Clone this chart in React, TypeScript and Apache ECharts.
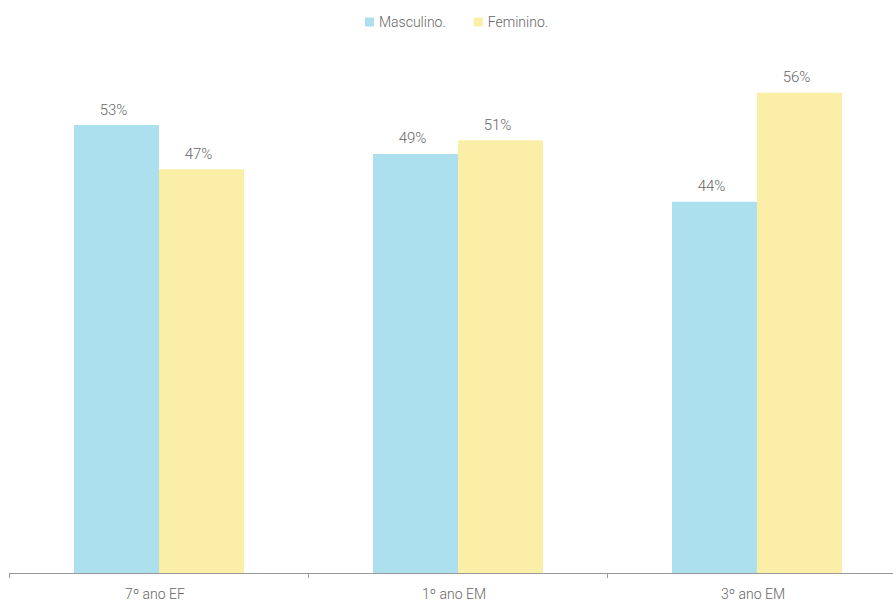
import React, { useEffect, useRef } from "react";
import * as echarts from "echarts";

const categories = ["7º ano EF", "1º ano EM", "3º ano EM"];
const masculino = [52.6, 49.2, 43.6];
const feminino = [47.4, 50.8, 56.4];
const seriesNames = ["Masculino.", "Feminino."];

export default function App() {
  const ref = useRef<HTMLDivElement>(null);
  useEffect(() => {
    const chart = echarts.init(ref.current!, null, { renderer: "svg" });
    const font = "Roboto";
    const labelCfg = {
      show: true,
      position: "top" as const,
      distance: 8,
      offset: [-3, 0],
      color: "#666",
      fontFamily: font,
      fontWeight: 300 as any,
      fontSize: 15,
      formatter: (p: any) => Math.round(p.value) + "%",
    };
    chart.setOption({
      animation: false,
      legend: {
        top: 10,
        left: 360,
        itemWidth: 9,
        itemHeight: 9,
        itemGap: 28,
        icon: "rect",
        textStyle: { color: "#666", fontFamily: font, fontWeight: 300, fontSize: 14 },
        data: seriesNames,
      },
      grid: {
        left: 9.5,
        width: 897,
        bottom: 30,
        top: 62,
        containLabel: false,
        outerBoundsMode: "none",
      },
      xAxis: {
        type: "category",
        data: categories,
        axisLine: { lineStyle: { color: "#999" } },
        axisTick: { show: true, length: 5, lineStyle: { color: "#999" } },
        axisLabel: {
          color: "#666",
          fontFamily: font,
          fontWeight: 300,
          fontSize: 14,
          margin: 14,
          padding: [0, 8, 0, 0],
        },
      },
      yAxis: {
        type: "value",
        min: 0,
        max: 60,
        show: false,
        splitLine: { show: false },
      },
      series: [
        {
          name: seriesNames[0],
          type: "bar",
          data: masculino,
          barWidth: 85,
          barGap: "0%",
          itemStyle: { color: "#ACE0EF" },
          label: labelCfg,
        },
        {
          name: seriesNames[1],
          type: "bar",
          data: feminino,
          barWidth: 85,
          barGap: "0%",
          itemStyle: { color: "#FBEFA8" },
          label: labelCfg,
        },
      ],
    });
    return () => chart.dispose();
  }, []);
  return <div ref={ref} style={{ width: 893, height: 603, position: "absolute", left: 0, top: 0 }} />;
}
